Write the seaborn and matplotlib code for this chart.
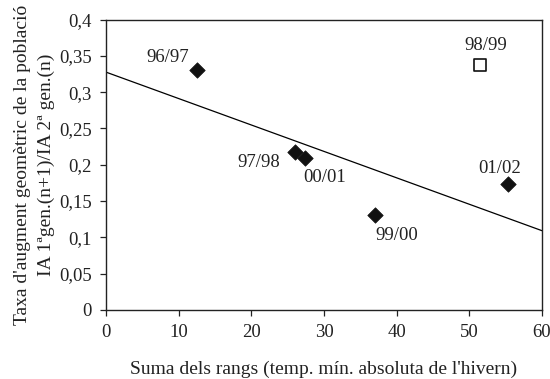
import matplotlib
matplotlib.use("Agg")
import matplotlib.pyplot as plt
import seaborn as sns
import pandas as pd

# Data
labels = ["96/97", "97/98", "00/01", "99/00", "01/02"]
x_vals = [12.5, 26.0, 27.4, 37.0, 55.3]
y_vals = [0.331, 0.218, 0.209, 0.131, 0.173]

outlier_label = ["98/99"]
outlier_x = [51.4]
outlier_y = [0.337]

x_ticks = [0, 10, 20, 30, 40, 50, 60]
y_ticks = [0, 0.05, 0.1, 0.15, 0.2, 0.25, 0.3, 0.35, 0.4]
y_tick_labels = ["0", "0,05", "0,1", "0,15", "0,2", "0,25", "0,3", "0,35", "0,4"]

x_label = "Suma dels rangs (temp. mín. absoluta de l'hivern)"
y_label = "Taxa d'augment geomètric de la població\nIA 1ªgen.(n+1)/IA 2ª gen.(n)"

# label offsets in pixels (dx, dy)
label_offsets = [(-29, 12), (-36, -11), (20, -19), (22, -21), (-8, 16)]
outlier_offset = (6, 20)

FS = 13.5

sns.set_style("ticks")
plt.rcParams["font.family"] = ["Liberation Serif", "DejaVu Serif"]

df = pd.DataFrame({"x": x_vals, "y": y_vals, "label": labels})
df_out = pd.DataFrame({"x": outlier_x, "y": outlier_y, "label": outlier_label})

fig = plt.figure(figsize=(5.5, 3.79), dpi=100)
ax = fig.add_axes([106 / 550, 1 - 310 / 379, (542 - 106) / 550, (310 - 19.5) / 379])
ax.set_xlim(0, 60)
ax.set_ylim(0, 0.4)

sns.regplot(data=df, x="x", y="y", ax=ax, scatter=False, ci=None, truncate=False,
            line_kws={"color": "black", "linewidth": 0.9})
sns.scatterplot(data=df, x="x", y="y", ax=ax, marker="D", s=62, color="#111111",
                edgecolor="#111111", linewidth=0.5, zorder=3)
sns.scatterplot(data=df_out, x="x", y="y", ax=ax, marker="s", s=85, facecolor="white",
                edgecolor="#111111", linewidth=1.2, zorder=3)

for (lx, ly, lab), (dx, dy) in zip(zip(x_vals, y_vals, labels), label_offsets):
    ax.annotate(lab, (lx, ly), xytext=(dx, dy), textcoords="offset pixels",
                ha="center", va="center", fontsize=FS, color="#222222")
for lx, ly, lab in zip(outlier_x, outlier_y, outlier_label):
    ax.annotate(lab, (lx, ly), xytext=outlier_offset, textcoords="offset pixels",
                ha="center", va="center", fontsize=FS, color="#222222")

ax.set_xlim(0, 60)
ax.set_ylim(0, 0.4)
ax.set_xticks(x_ticks)
ax.set_xticklabels([str(t) for t in x_ticks])
ax.set_yticks(y_ticks)
ax.set_yticklabels(y_tick_labels)
ax.tick_params(axis="both", direction="out", length=4, width=0.9, labelsize=FS,
               colors="#222222", pad=6)
for side in ["top", "right", "bottom", "left"]:
    ax.spines[side].set_visible(True)
    ax.spines[side].set_linewidth(1.0)
    ax.spines[side].set_color("#222222")

ax.set_xlabel(x_label, fontsize=FS + 0.5, color="#222222", labelpad=14)
ax.set_ylabel(y_label, fontsize=FS + 0.5, color="#222222", labelpad=3, linespacing=1.55)

fig.savefig("out.png", dpi=100)
